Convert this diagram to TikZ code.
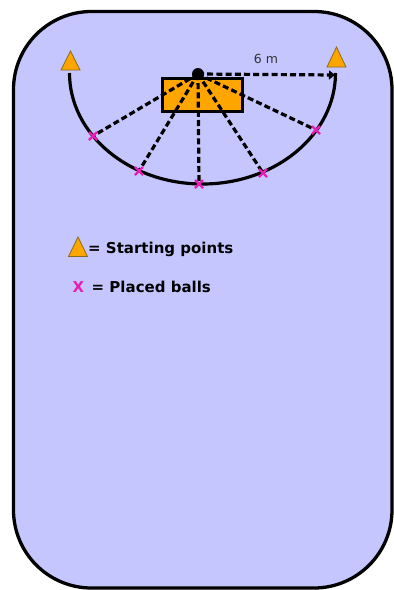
\documentclass[tikz,border=0pt]{standalone}
\usepackage{fontspec}
\setmainfont{DejaVu Sans}
\usetikzlibrary{arrows.meta,calc}
\definecolor{bgblue}{HTML}{C6C6FF}
\definecolor{orng}{HTML}{FFA500}
\definecolor{tri}{HTML}{8A6A1A}
\definecolor{mag}{HTML}{E61EB4}
\tikzset{
  field/.style={draw=black, line width=3.3, fill=bgblue, rounded corners=78},
  dashline/.style={draw=black, line width=3.2, dash pattern=on 6 off 3.2},
  starttri/.style={fill=orng, draw=tri, line width=0.8, line join=miter},
  ballmark/.style={draw=mag, line width=2.4},
  legend/.style={font=\bfseries\fontsize{15}{17}\selectfont, anchor=base west, inner sep=0},
}
\begin{document}
\begin{tikzpicture}[x=1pt,y=-1pt]
\useasboundingbox (0,0) rectangle (394,590);
\path[field] (13.5,11.5) rectangle (392,588);
% semicircle path
\draw[line width=3.2] (69.5,73) arc[start angle=180, end angle=0, x radius=133, y radius=111];
% box
\node[draw=black, line width=2.6, fill=orng, minimum width=80, minimum height=33, inner sep=0, anchor=north west] (box) at (161,77) {};
% centre dot
\coordinate (c) at (198,74);
% balls
\coordinate (b1) at (93,136);
\coordinate (b2) at (139,171);
\coordinate (b3) at (199,184);
\coordinate (b4) at (263,173);
\coordinate (b5) at (316,130);
\coordinate (e) at (335,75);
\foreach \b in {b1,b2,b3,b4,b5} \draw[dashline] (c) -- (\b);
\draw[dashline, -{Triangle[length=6,width=9]}] (c) -- (e);
\fill[black] (c) circle (6);
\foreach \b in {b1,b2,b3,b4,b5} \draw[ballmark] ($(\b)+(-4,-4)$) -- ($(\b)+(4,4)$) ($(\b)+(-4,4)$) -- ($(\b)+(4,-4)$);
% starting triangles
\path[starttri] (70.5,51) -- (80,70) -- (61,70) -- cycle;
\path[starttri] (336.5,47) -- (346,67) -- (327,67) -- cycle;
\node[font=\fontsize{12.5}{14}\selectfont, text=black!80] (lbl) at (266,59) {6 m};
% legend
\path[starttri] (78,237) -- (87.5,256.5) -- (68.5,256.5) -- cycle;
\node[legend] (l1) at (88,253) {= Starting points};
\node[legend, text=mag] (lx) at (72.5,292.5) {X};
\node[legend] (l2) at (91.5,292.5) {= Placed balls};
\end{tikzpicture}
\end{document}
